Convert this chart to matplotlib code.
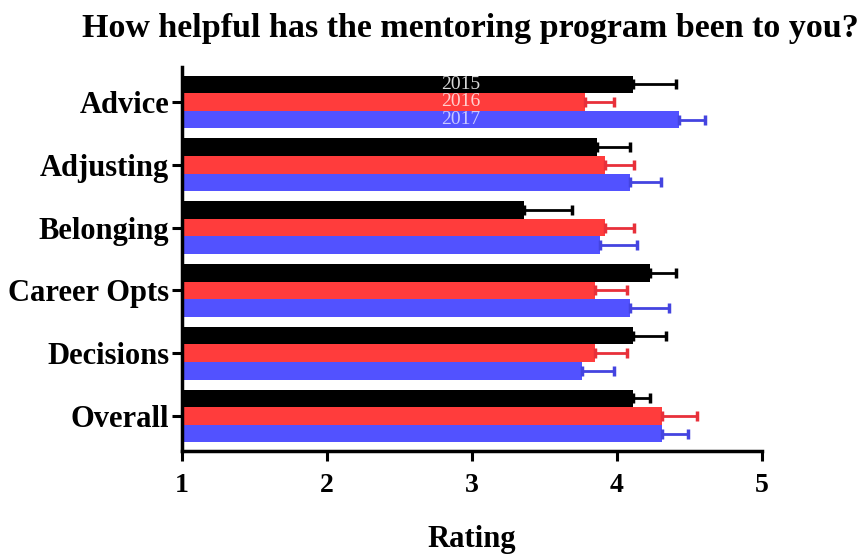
import matplotlib
matplotlib.use("Agg")
import matplotlib.pyplot as plt
import numpy as np

categories = ["Advice", "Adjusting", "Belonging", "Career Opts", "Decisions", "Overall"]
years = ["2015", "2016", "2017"]
vals_2015 = [4.11, 3.86, 3.36, 4.23, 4.11, 4.11]
err_2015 = [0.30, 0.23, 0.33, 0.18, 0.23, 0.12]
vals_2016 = [3.78, 3.92, 3.92, 3.85, 3.85, 4.31]
err_2016 = [0.20, 0.20, 0.20, 0.22, 0.22, 0.24]
vals_2017 = [4.43, 4.09, 3.88, 4.09, 3.76, 4.31]
err_2017 = [0.18, 0.21, 0.26, 0.27, 0.22, 0.18]
xticks = [1, 2, 3, 4, 5]

colors = ["#000000", "#FF3C3C", "#5252FF"]
err_colors = ["#000000", "#E8303A", "#4444E0"]
label_colors = ["#d8d8d8", "#ffd0d0", "#c8c8ff"]

plt.rcParams['font.family'] = ['Liberation Serif', 'DejaVu Serif']

fig = plt.figure(figsize=(8.68, 5.54), dpi=100)
ax = fig.add_axes([182/868, 1-451/554, 580/868, 384/554])

y = np.arange(len(categories))
h = 0.28
series = [(vals_2015, err_2015), (vals_2016, err_2016), (vals_2017, err_2017)]
for i, (v, e) in enumerate(series):
    off = (i - 1) * h
    v = np.array(v)
    ax.barh(y + off, v - 1, left=1, height=h, color=colors[i], edgecolor='none', zorder=2)
    ax.errorbar(v, y + off, xerr=[np.zeros_like(v), np.array(e)], fmt='none',
                ecolor=err_colors[i], elinewidth=2, capsize=3.5, capthick=2.5, zorder=3)
    ax.text(2.92, y[0] + off, years[i], color=label_colors[i], fontsize=14,
            ha='center', va='center', zorder=4)

ax.set_xlim(1, 5)
ax.set_ylim(5.557, -0.557)
ax.set_yticks(y)
ax.set_yticklabels(categories, fontsize=22, fontweight='bold')
ax.set_xticks(xticks)
ax.set_xticklabels([str(t) for t in xticks], fontsize=20, fontweight='bold')
ax.tick_params(axis='both', direction='out', length=7.2, width=2.2)
ax.tick_params(axis='x', pad=9)
ax.tick_params(axis='y', pad=2)
for s in ['top', 'right']:
    ax.spines[s].set_visible(False)
for s in ['left', 'bottom']:
    ax.spines[s].set_linewidth(2.5)
ax.spines['left'].set_zorder(5)

ax.set_xlabel("Rating", fontsize=22, fontweight='bold', va='baseline')
ax.xaxis.set_label_coords(0.5, -(547 - 451) / 384)
fig.text(0.542, 1 - 37.3/554, "How helpful has the mentoring program been to you?",
         fontsize=24.5, fontweight='bold', ha='center', va='baseline')

fig.savefig("out.png", dpi=100)
